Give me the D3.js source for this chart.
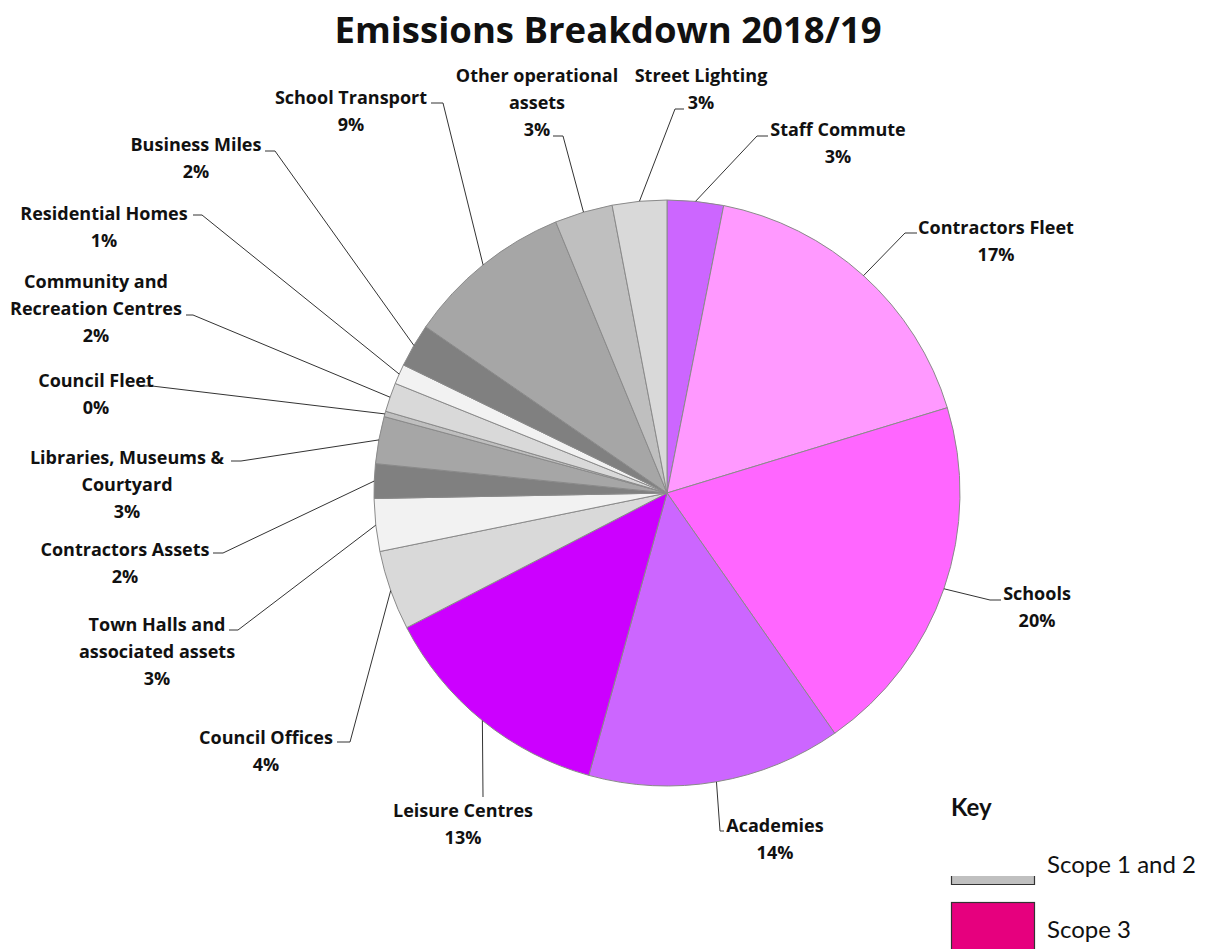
<!DOCTYPE html>
<html>
<head>
<meta charset="utf-8">
<script src="https://cdn.jsdelivr.net/npm/d3@7"></script>
<style>
  html, body { margin: 0; padding: 0; background: #fff; }
  svg { display: block; }
</style>
</head>
<body>
<div id="chart"></div>
<script>
// Slices in clockwise order from 12 o'clock (share of total, %)
const categories = [
  "Staff Commute", "Contractors Fleet", "Schools", "Academies", "Leisure Centres",
  "Council Offices", "Town Halls and associated assets", "Contractors Assets",
  "Libraries, Museums & Courtyard", "Council Fleet", "Community and Recreation Centres",
  "Residential Homes", "Business Miles", "School Transport", "Other operational assets",
  "Street Lighting"
];
const values = [3.1, 17.2, 20.0, 14.0, 13.1, 4.4, 2.9, 1.9, 2.6, 0.3, 1.6, 1.1, 2.4, 9.2, 3.2, 3.0];
const scope = [3, 3, 3, 3, 3, 1, 1, 1, 1, 1, 1, 1, 1, 1, 1, 1];

// how each label wraps
const labelLines = [
  ["Staff Commute"], ["Contractors Fleet"], ["Schools"], ["Academies"], ["Leisure Centres"],
  ["Council Offices"], ["Town Halls and", "associated assets"], ["Contractors Assets"],
  ["Libraries, Museums &", "Courtyard"], ["Council Fleet"], ["Community and", "Recreation Centres"],
  ["Residential Homes"], ["Business Miles"], ["School Transport"], ["Other operational", "assets"],
  ["Street Lighting"]
];

const legendItems = ["Scope 1 and 2", "Scope 3"];

// styles
const sliceColors = [
  "#cc66ff", "#ff99ff", "#ff66ff", "#cc66ff", "#cc00ff",
  "#d9d9d9", "#f2f2f2", "#808080", "#a6a6a6", "#bfbfbf", "#d9d9d9",
  "#f2f2f2", "#808080", "#a6a6a6", "#bfbfbf", "#d9d9d9"
];
const legendColors = ["#c0c0c0", "#e6007e"];

// label layout: text centre x, first line centre y, elbow of the leader, end of the stub
const labelLayout = [
  { x: 838, y: 130, ex: 757, ey: 136, sx: 768 },
  { x: 996, y: 228, ex: 905, ey: 233, sx: 917 },
  { x: 1037, y: 594, ex: 990, ey: 600, sx: 1001 },
  { x: 775, y: 826, ex: 720, ey: 831, sx: 724 },
  { x: 463, y: 811, ex: 483, ey: 797, sx: 483 },
  { x: 266, y: 738, ex: 350, ey: 742, sx: 337 },
  { x: 157, y: 625, ex: 238, ey: 630, sx: 229 },
  { x: 125, y: 550, ex: 223, ey: 553, sx: 213 },
  { x: 127, y: 458, ex: 241, ey: 461, sx: 231 },
  { x: 96, y: 381, ex: 152, ey: 386, sx: 142 },
  { x: 96, y: 282, ex: 193, ey: 315, sx: 186 },
  { x: 104, y: 214, ex: 202, ey: 215, sx: 193 },
  { x: 196, y: 145, ex: 275, ey: 151, sx: 265 },
  { x: 351, y: 98, ex: 443, ey: 103, sx: 431 },
  { x: 537, y: 76, ex: 563, ey: 136, sx: 553 },
  { x: 701, y: 76, ex: 675, ey: 109, sx: 684 }
];

const width = 1206;
const height = 949;
const cx = 667, cy = 493, radius = 293;
const lineH = 27;

const svg = d3.select("#chart")
  .append("svg")
  .attr("width", width)
  .attr("height", height)
  .style("font-family", "'Open Sans', Lato, sans-serif");

// Title
svg.append("text")
  .attr("x", 608)
  .attr("y", 43)
  .attr("text-anchor", "middle")
  .attr("font-size", 36.5)
  .attr("font-weight", "bold")
  .attr("fill", "#111")
  .text("Emissions Breakdown 2018/19");

const pie = d3.pie().sort(null).value(d => d.value);
const arcs = pie(categories.map((c, i) => ({ name: c, value: values[i], i })));

const arc = d3.arc().innerRadius(0).outerRadius(radius);

const g = svg.append("g").attr("transform", `translate(${cx},${cy})`);

g.selectAll("path.slice")
  .data(arcs)
  .enter()
  .append("path")
  .attr("class", "slice")
  .attr("d", arc)
  .attr("fill", d => sliceColors[d.data.i])
  .attr("stroke", "#8a8a8a")
  .attr("stroke-width", 1);

// Leader lines start on the rim at the slice's mid angle
const rimPoint = d => {
  const a = (d.startAngle + d.endAngle) / 2;
  return [cx + radius * Math.sin(a), cy - radius * Math.cos(a)];
};

svg.append("g")
  .selectAll("polyline")
  .data(arcs)
  .enter()
  .append("polyline")
  .attr("points", d => {
    const L = labelLayout[d.data.i];
    return [rimPoint(d), [L.ex, L.ey], [L.sx, L.ey]].map(p => p.join(",")).join(" ");
  })
  .attr("fill", "none")
  .attr("stroke", "#333")
  .attr("stroke-width", 1);

// Labels
const labels = svg.append("g")
  .selectAll("text")
  .data(arcs)
  .enter()
  .append("text")
  .attr("text-anchor", "middle")
  .attr("font-size", 18)
  .attr("font-weight", "bold")
  .attr("fill", "#111");

labels.each(function(d) {
  const L = labelLayout[d.data.i];
  const lines = labelLines[d.data.i].concat([Math.round(d.data.value) + "%"]);
  d3.select(this).selectAll("tspan")
    .data(lines)
    .enter()
    .append("tspan")
    .attr("x", L.x)
    .attr("y", (t, k) => L.y + k * lineH)
    .attr("dy", "0.35em")
    .text(t => t);
});

// Key
const key = svg.append("g").style("font-family", "Lato, sans-serif");

key.append("text")
  .attr("x", 951)
  .attr("y", 816)
  .attr("font-size", 24)
  .attr("font-weight", "bold")
  .attr("fill", "#111")
  .text("Key");

// first swatch is only partly visible in the original
key.append("rect")
  .attr("x", 951).attr("y", 876)
  .attr("width", 84).attr("height", 9)
  .attr("fill", legendColors[0]);
key.append("path")
  .attr("d", "M951.5,876V884.5H1034.5V876")
  .attr("fill", "none")
  .attr("stroke", "#333")
  .attr("stroke-width", 1.2);

key.append("rect")
  .attr("x", 951.5).attr("y", 902.5)
  .attr("width", 83).attr("height", 60)
  .attr("fill", legendColors[1])
  .attr("stroke", "#333")
  .attr("stroke-width", 1.2);

key.selectAll("text.item")
  .data(legendItems)
  .enter()
  .append("text")
  .attr("class", "item")
  .attr("x", 1047)
  .attr("y", (d, i) => i === 0 ? 873 : 938)
  .attr("font-size", 24)
  .attr("fill", "#111")
  .text(d => d);
</script>
</body>
</html>
